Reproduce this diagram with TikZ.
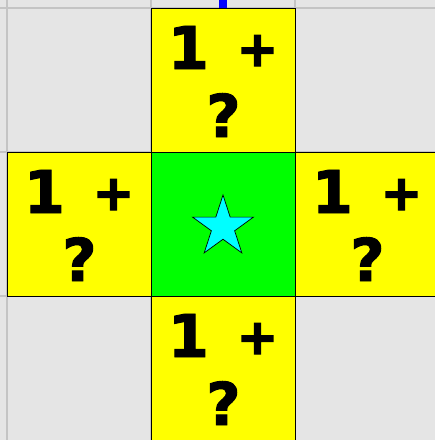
\documentclass[tikz,border=0pt]{standalone}
\usepackage{fontspec}
\newfontfamily\glyphfont{DejaVu Sans Bold}[FakeBold=1.6]
\newfontfamily\plusfont{DejaVu Sans Bold}[FakeBold=3]
\usetikzlibrary{shapes.geometric}
\definecolor{bggray}{HTML}{E5E5E5}
\definecolor{gridgray}{HTML}{C4C4C4}
\definecolor{cellyellow}{HTML}{FFFF00}
\definecolor{cellgreen}{HTML}{00FF00}
\definecolor{starcyan}{HTML}{00FFFF}
\definecolor{markblue}{HTML}{0000FF}
\newcommand{\smallplus}{\raisebox{3pt}{\plusfont\fontsize{49}{49}\selectfont+}}
\tikzset{
  cell/.style={draw=black, line width=1pt, minimum size=144pt, inner sep=0pt, anchor=north west},
  yellowcell/.style={cell, fill=cellyellow},
  greencell/.style={cell, fill=cellgreen},
  bigtext/.style={font=\glyphfont\fontsize{59}{59}\selectfont, inner sep=0pt, anchor=base, text=black},
  gridline/.style={draw=gridgray, line width=2.2pt}
}
\begin{document}
\begin{tikzpicture}[x=1pt,y=-1pt]
\useasboundingbox (0,0) rectangle (435,440);
\fill[bggray] (0,0) rectangle (435,440);
% grid
\foreach \gx in {7,151,295} \draw[gridline] (\gx,0) -- (\gx,440);
\foreach \gy in {8,152,296} \draw[gridline] (0,\gy) -- (435,\gy);
% blue mark
\fill[markblue] (219,0) rectangle (227,8);
% cells
\node[yellowcell] (top) at (151,8) {};
\node[yellowcell] (left) at (7,152) {};
\node[greencell] (center) at (151,152) {};
\node[yellowcell] (right) at (295,152) {};
\node[yellowcell] (bottom) at (151,296) {};
% texts
\foreach \nm/\cx/\cy in {top/151/8, left/7/152, right/295/152, bottom/151/296} {
  \node[bigtext] (\nm-a) at (\cx+72,\cy+61) {1\hspace{28pt}\smallplus};
  \node[bigtext] (\nm-b) at (\cx+72.5,\cy+129) {?};
}
% star
\node[star, star points=5, star point ratio=2.618, minimum size=64pt, inner sep=0pt,
      fill=starcyan, draw=black, line width=0.7pt] (starnode) at (223,227) {};
\end{tikzpicture}
\end{document}
